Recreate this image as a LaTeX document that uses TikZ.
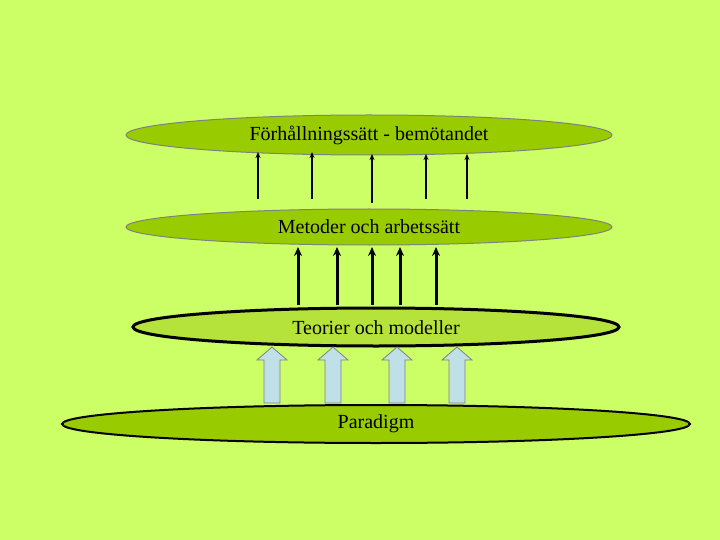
\documentclass[tikz,border=0pt]{standalone}
\usepackage{fontspec}
\setmainfont{Liberation Serif}
\usetikzlibrary{arrows.meta}
\definecolor{bg}{HTML}{CCFF66}
\definecolor{dk}{HTML}{99CC00}
\definecolor{lt}{HTML}{B5E33B}
\definecolor{ab}{HTML}{BFE0E6}
\tikzset{x=1pt,y=-1pt,
 lvl/.style={ellipse,inner sep=0pt,font=\fontsize{20}{22}\selectfont},
 thin/.style={-{Stealth[length=6pt,width=5pt]},line width=1.3pt},
 thick/.style={-{Stealth[length=9pt,width=8pt]},line width=3pt},
}
\usetikzlibrary{shapes.geometric}
\begin{document}
\begin{tikzpicture}
\fill[bg] (0,0) rectangle (720,540);
\useasboundingbox (0,0) rectangle (720,540);
\draw[gray,fill=dk,line width=1pt] (369,135) ellipse [x radius=243,y radius=20];
\node (f) at (369,135) {\fontsize{20}{22}\selectfont Förhållningssätt - bemötandet};
\draw[gray,fill=dk,line width=1pt] (369,227) ellipse [x radius=243,y radius=18];
\node (m) at (369,227) {\fontsize{20}{22}\selectfont Metoder och arbetssätt};
\draw[black,fill=lt,line width=3pt] (376,327) ellipse [x radius=243,y radius=19];
\node (t) at (376,328) {\fontsize{20}{22}\selectfont Teorier och modeller};
\draw[black,fill=dk,line width=2pt] (376,424) ellipse [x radius=314,y radius=19];
\node (p) at (376,424) {\fontsize{20}{22}\selectfont Paradigm};
\foreach \x/\a/\b in {258/199/152,312/199/152,372/203/154,426/199/154,467/199/154}{
 \coordinate (s\x) at (\x,\a); \coordinate (e\x) at (\x,\b);
 \draw[thin] (s\x) -- (e\x);}
\foreach \x in {298,337,372,400,436}{
 \coordinate (s\x) at (\x,305); \coordinate (e\x) at (\x,247);
 \draw[thick] (s\x) -- (e\x);}
\foreach \x in {272,333,397,457}{
 \draw[gray,fill=ab,line width=0.8pt] (\x-8,403) -- (\x-8,360) -- (\x-15,360) -- (\x,347) -- (\x+15,360) -- (\x+8,360) -- (\x+8,403) -- cycle;}
\end{tikzpicture}
\end{document}
